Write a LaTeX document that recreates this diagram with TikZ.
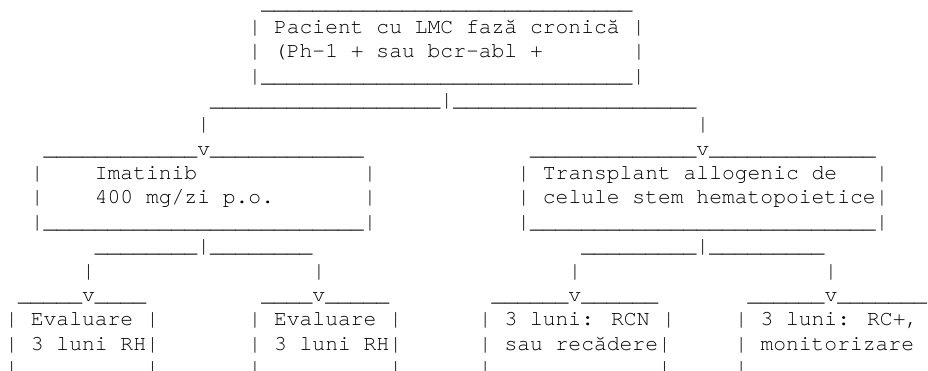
\documentclass[tikz,border=0pt]{standalone}
\usepackage{fontspec}
\newfontfamily\asciifont{texgyrecursor-regular.otf}

% repeat a token list #1 times
\makeatletter
\newcommand\reptok[2]{\ifnum#1>0 #2\expandafter\reptok\expandafter{\the\numexpr#1-1\relax}{#2}\fi}
\makeatother
\newcommand\us[1]{\reptok{#1}{\_}}

% one text segment of a character row: name, column, row, text
\newcommand\seg[4]{\node[asciirow] (#1) at ({5.3+12.8*#2},{-(9.2+24.35*#3)}) {#4};}

\begin{document}
\begin{tikzpicture}[x=1pt,y=1pt,
  asciirow/.style={anchor=base west,inner sep=0pt,outer sep=0pt,
    font=\asciifont\fontsize{21.33}{24.35}\selectfont,text=black}]
\useasboundingbox (0,0) rectangle (928,-371);
\fill[white] (0,0) rectangle (928,-371);

% root box
\seg{r0}{20}{0}{\us{29}}
\seg{r1}{19}{1}{| Pacient cu LMC fază cronică |}
\seg{r2a}{19}{2}{| (Ph-1 + sau bcr-abl +}
\seg{r2b}{49}{2}{|}
\seg{r3}{19}{3}{|\us{29}|}

% first split
\seg{r4}{16}{4}{\us{18}|\us{19}}
\seg{r5a}{15}{5}{|}
\seg{r5b}{54}{5}{|}
\seg{r6a}{3}{6}{\us{12}v\us{12}}
\seg{r6b}{41}{6}{\us{13}v\us{13}}

% treatment boxes
\seg{r7a}{2}{7}{|}
\seg{r7b}{7}{7}{Imatinib}
\seg{r7c}{28}{7}{|}
\seg{r7d}{40}{7}{| Transplant allogenic de}
\seg{r7e}{68}{7}{|}
\seg{r8a}{2}{8}{|}
\seg{r8b}{7}{8}{400 mg/zi p.o.}
\seg{r8c}{28}{8}{|}
\seg{r8d}{40}{8}{| celule stem hematopoietice|}
\seg{r9a}{2}{9}{|\us{25}|}
\seg{r9b}{40}{9}{|\us{27}|}

% second split
\seg{r10a}{7}{10}{\us{8}|\us{8}}
\seg{r10b}{45}{10}{\us{9}|\us{9}}
\seg{r11a}{6}{11}{|}
\seg{r11b}{24}{11}{|}
\seg{r11c}{44}{11}{|}
\seg{r11d}{64}{11}{|}
\seg{r12a}{1}{12}{\us{5}v\us{4}}
\seg{r12b}{20}{12}{\us{4}v\us{5}}
\seg{r12c}{38}{12}{\us{6}v\us{6}}
\seg{r12d}{58}{12}{\us{6}v\us{7}}

% outcome boxes
\seg{r13a}{0}{13}{| Evaluare |}
\seg{r13b}{19}{13}{| Evaluare |}
\seg{r13c}{37}{13}{| 3 luni: RCN |}
\seg{r13d}{57}{13}{| 3 luni: RC+,}
\seg{r14a}{0}{14}{| 3 luni RH|}
\seg{r14b}{19}{14}{| 3 luni RH|}
\seg{r14c}{37}{14}{| sau recădere|}
\seg{r14d}{57}{14}{| monitorizare}
\seg{r15a}{0}{15}{|}
\seg{r15b}{11}{15}{|}
\seg{r15c}{19}{15}{|}
\seg{r15d}{30}{15}{|}
\seg{r15e}{37}{15}{|}
\seg{r15f}{51}{15}{|}
\seg{r15g}{57}{15}{|}
\end{tikzpicture}
\end{document}
